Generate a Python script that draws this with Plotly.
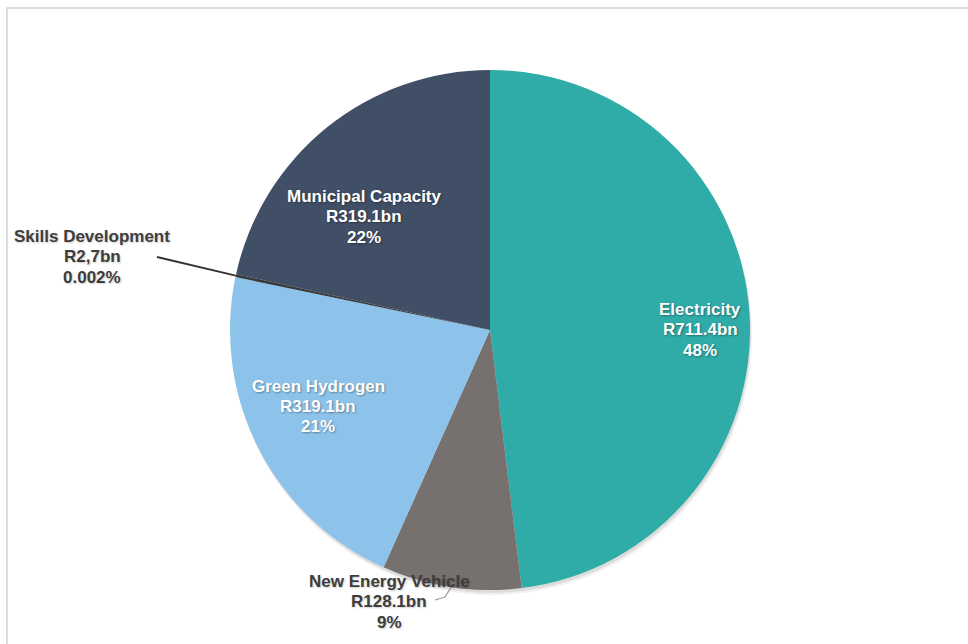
import math
import plotly.graph_objects as go

# Climate finance allocation by sector (R billion)
sectors = ["Electricity", "New Energy Vehicle", "Green Hydrogen", "Skills Development", "Municipal Capacity"]
values = [711.4, 128.1, 319.1, 2.7, 319.1]
amount_labels = ["R711.4bn", "R128.1bn", "R319.1bn", "R2,7bn", "R319.1bn"]
share_labels = ["48%", "9%", "21%", "0.002%", "22%"]
colors = ["#2fabA8", "#76706e", "#8dc3eb", "#3a3a3a", "#414f66"]

W, H = 968, 644
CX, CY, R = 490, 330, 260  # pie centre and radius in pixels

FONT = "Liberation Sans, Arial, Helvetica, sans-serif"
FONT_SIZE = 17
LINE_GAP = 20.5


def pie_domain(dx=0, dy=0):
    return dict(x=[(CX - R + dx) / W, (CX + R + dx) / W],
                y=[(H - CY - R - dy) / H, (H - CY + R - dy) / H])


fig = go.Figure()

# soft drop shadow under the pie
for dx, dy, alpha in [(2, 5, 0.05), (1, 3, 0.09)]:
    fig.add_trace(go.Pie(
        values=[1], labels=["shadow"], textinfo="none", hoverinfo="skip",
        marker=dict(colors=[f"rgba(0,0,0,{alpha})"], line=dict(width=0)),
        showlegend=False, sort=False, domain=pie_domain(dx, dy),
    ))

fig.add_trace(go.Pie(
    labels=sectors,
    values=values,
    textinfo="none",
    marker=dict(colors=colors, line=dict(width=0)),
    sort=False,
    direction="clockwise",
    rotation=0,
    showlegend=False,
    hoverinfo="label+value",
    domain=pie_domain(),
))


def px_to_paper(x, y):
    return x / W, 1 - y / H


def edge_point(idx):
    """Pixel position on the rim at the middle angle of slice idx."""
    total = sum(values)
    mid = (sum(values[:idx]) + values[idx] / 2) / total * 2 * math.pi
    return CX + R * math.sin(mid), CY - R * math.cos(mid)


annotations = []


def add_label(idx, cx, first_y, color, shadow):
    lines = [sectors[idx], amount_labels[idx], share_labels[idx]]
    for k, line in enumerate(lines):
        x, y = px_to_paper(cx, first_y + k * LINE_GAP)
        annotations.append(dict(
            xref="paper", yref="paper", x=x, y=y, xanchor="center", yanchor="middle",
            showarrow=False, text=f"<b>{line}</b>",
            font=dict(family=FONT, size=FONT_SIZE, color=color, shadow=shadow)))


white_shadow = "1px 1px 2px rgba(0,0,0,0.35)"
dark_shadow = "1px 1px 2px rgba(0,0,0,0.2)"

# slice labels (centre x, first line y)
add_label(0, 700, 309, "white", white_shadow)
add_label(2, 318, 386, "white", white_shadow)
add_label(4, 364, 196, "white", white_shadow)
add_label(3, 92, 236, "#3d3d3d", dark_shadow)
add_label(1, 389, 581, "#3d3d3d", dark_shadow)

shapes = []

# Skills Development leader line
sx, sy = edge_point(3)
x0, y0 = px_to_paper(157, 257)
x1, y1 = px_to_paper(sx, sy)
shapes.append(dict(type="line", xref="paper", yref="paper", x0=x0, y0=y0, x1=x1, y1=y1,
                   line=dict(color="#333333", width=1.8)))

# New Energy Vehicle leader line
nx, ny = edge_point(1)
p1 = px_to_paper(nx, ny)
p2 = px_to_paper(445, 597)
p3 = px_to_paper(435, 600)
shapes.append(dict(type="path", xref="paper", yref="paper",
                   path=f"M {p1[0]},{p1[1]} L {p2[0]},{p2[1]} L {p3[0]},{p3[1]}",
                   line=dict(color="#9a9a9a", width=1.2)))

# light frame along the top and left edges
fx0, fy1 = px_to_paper(7, 8)
shapes.append(dict(type="rect", xref="paper", yref="paper", x0=fx0, y0=-0.05, x1=1.05, y1=fy1,
                   line=dict(color="#dddddd", width=2), layer="below"))

fig.update_layout(
    width=W, height=H,
    margin=dict(l=0, r=0, t=0, b=0),
    paper_bgcolor="white",
    plot_bgcolor="white",
    shapes=shapes,
    annotations=annotations,
    font=dict(family=FONT),
)

fig.write_html("out.html")
